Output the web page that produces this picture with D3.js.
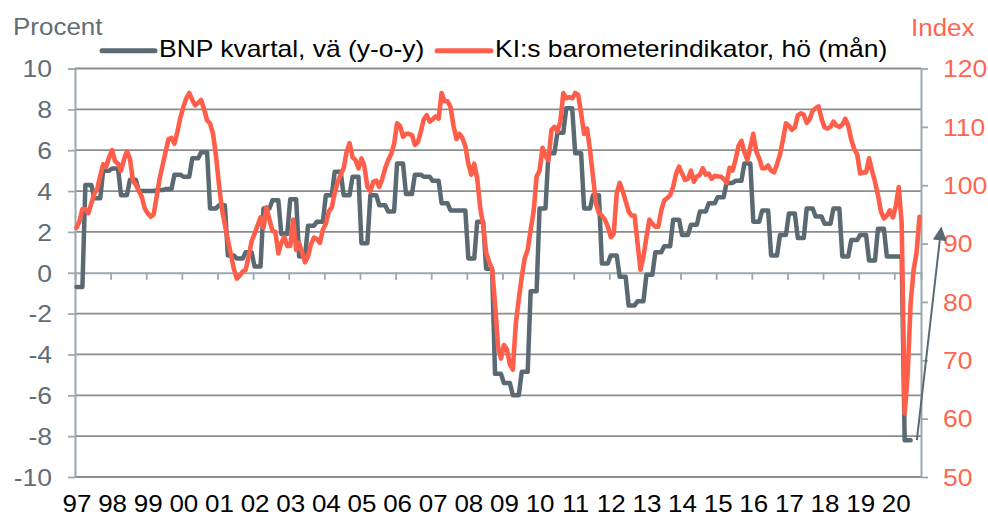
<!DOCTYPE html>
<html><head><meta charset="utf-8">
<script src="https://cdn.jsdelivr.net/npm/d3@7"></script>
<style>
html,body{margin:0;padding:0;background:#fff;}
svg text{font-family:"Liberation Sans",Arial,sans-serif;}
</style></head>
<body><svg id="chart" width="988" height="516"></svg>
<script>
// ---- data ----
const years = ["97","98","99","00","01","02","03","04","05","06","07","08","09","10","11","12","13","14","15","16","17","18","19","20"];
const leftTicks = [-10,-8,-6,-4,-2,0,2,4,6,8,10];
const rightTicks = [50,60,70,80,90,100,110,120];
const seriesNames = ["BNP kvartal, vä (y-o-y)", "KI:s barometerindikator, hö (mån)"];
// BNP, quarterly y-o-y %, 1997Q1 - 2020Q2
const bnpQuarterly = [
 -0.7, 4.3, 3.65, 5.0,
 5.1, 3.8, 4.55, 4.0,
 4.0, 4.05, 4.1, 4.8,
 4.7, 5.6, 5.9, 3.15,
 3.3, 0.85, 0.7, 1.0,
 0.3, 3.15, 3.55, 1.9,
 3.6, 0.8, 2.3, 2.5,
 3.8, 4.95, 3.8, 4.7,
 1.45, 3.8, 3.3, 3.0,
 5.35, 3.85, 4.8, 4.7,
 4.5, 3.4, 3.05, 3.05,
 0.7, 2.5, 0.2, -4.95,
 -5.4, -6.0, -4.85, -0.9,
 3.15, 5.85, 6.85, 8.05,
 5.85, 3.15, 3.8, 0.45,
 0.85, -0.2, -1.6, -1.4,
 -0.1, 1.0, 1.3, 2.6,
 1.85, 2.35, 3.0, 3.4,
 3.7, 4.4, 4.5, 5.35,
 2.5, 3.05, 0.85, 1.85,
 2.9, 1.7, 3.15, 2.75,
 2.4, 3.15, 0.8, 1.6,
 1.85, 0.6, 2.15, 0.8,
 0.8, -8.2];
// KI barometer, monthly index, Jan 1997 - Sep 2020
const kiMonthly = [
 92.7, 93.8, 95.9, 95.9, 95.2, 96.9, 98.5, 99.4, 101.6, 103.6, 103.2, 104.8,
 106.0, 104.1, 103.7, 102.5, 104.4, 105.8, 104.6, 100.8, 100.1, 99.0, 98.0, 96.0,
 95.2, 94.6, 95.0, 98.0, 101.1, 103.4, 105.7, 107.9, 108.1, 107.1, 109.2, 111.6,
 113.4, 114.9, 115.8, 114.6, 113.7, 114.1, 114.6, 113.0, 111.1, 110.6, 108.8, 105.0,
 100.1, 95.9, 93.2, 90.6, 88.2, 85.7, 84.0, 84.5, 85.2, 85.5, 87.8, 90.4,
 91.7, 93.1, 94.5, 92.7, 96.2, 94.1, 92.2, 92.0, 88.3, 90.1, 91.1, 89.6,
 89.6, 94.1, 88.9, 90.1, 88.5, 86.8, 87.8, 89.9, 91.0, 90.8, 90.1, 92.4,
 93.4, 95.5, 96.2, 98.7, 100.6, 101.8, 102.9, 105.7, 107.2, 104.8, 104.3, 102.9,
 104.6, 103.2, 99.7, 99.0, 100.6, 100.8, 99.7, 101.1, 102.9, 104.3, 105.3, 107.1,
 110.6, 110.2, 108.3, 108.8, 108.8, 108.6, 106.9, 107.4, 109.2, 111.3, 112.0, 110.9,
 111.3, 111.8, 111.4, 115.8, 114.4, 114.4, 113.4, 110.2, 107.9, 108.8, 108.1, 106.7,
 103.7, 101.8, 103.7, 101.1, 96.2, 93.1, 88.5, 86.9, 85.7, 79.8, 72.4, 70.3,
 72.6, 71.9, 69.3, 68.4, 76.3, 80.5, 84.3, 87.5, 88.9, 92.4, 95.5, 101.5,
 102.5, 106.4, 105.0, 104.3, 109.5, 110.0, 109.2, 110.9, 115.8, 114.9, 115.1, 114.9,
 115.8, 115.5, 112.3, 108.8, 109.7, 106.0, 101.5, 96.9, 95.2, 94.8, 94.1, 92.9,
 91.1, 91.7, 98.7, 100.4, 99.0, 97.3, 95.5, 94.8, 94.8, 90.1, 85.5, 87.8,
 91.1, 94.1, 93.4, 92.9, 92.9, 95.7, 97.4, 97.8, 98.3, 99.7, 102.0, 103.2,
 102.0, 100.9, 101.1, 102.5, 100.6, 101.5, 101.8, 102.9, 101.8, 102.0, 101.1, 101.6,
 101.5, 101.5, 101.1, 100.4, 103.0, 102.5, 104.3, 106.7, 107.6, 105.7, 104.3, 106.5,
 108.8, 105.8, 104.6, 102.9, 102.9, 103.4, 102.5, 102.2, 103.6, 105.3, 107.8, 110.6,
 110.2, 109.5, 109.9, 112.0, 112.3, 112.1, 110.7, 111.3, 112.8, 113.2, 113.5, 111.4,
 109.9, 109.7, 110.0, 110.9, 110.2, 110.0, 110.4, 111.4, 110.2, 107.8, 106.2, 105.3,
 102.0, 102.2, 102.2, 104.6, 102.5, 100.6, 98.3, 95.5, 94.3, 94.8, 95.7, 94.5,
 96.4, 99.7, 93.4, 60.9, 67.5, 79.8, 85.4, 88.5, 94.6];
// annotation arrow (month index, left-axis value)
const arrowFrom = [283.6, -8.2];
const arrowTo = [291.8, 2.2];

// ---- drawing ----
const svg = d3.select("#chart");
const totalMonths = 285;
const GRAY = "#5b6a72", RED = "#ff5f4a", AXIS = "#9aa8b1", GRID = "#8c8c8c";
const TXT_GRAY = "#5f6e76", TXT_RED = "#ff6650";
const SX = 1.13;

const x = d3.scaleLinear().domain([0, totalMonths]).range([75, 921]);
const yL = d3.scaleLinear().domain([-10, 10]).range([477, 68.5]);
const yR = d3.scaleLinear().domain([50, 120]).range([477, 68.5]);

// gridlines
svg.append("g").selectAll("line").data(leftTicks.filter(v => v !== 0)).join("line")
  .attr("x1", x(0)).attr("x2", x(totalMonths))
  .attr("y1", d => yL(d)).attr("y2", d => yL(d))
  .attr("stroke", GRID).attr("stroke-width", 1.8);

function styleText(sel, size, color, anchor) {
  sel.attr("font-size", size).attr("fill", color).attr("text-anchor", anchor);
}

// left axis
const gL = svg.append("g").attr("transform", `translate(${x(0)},0)`)
  .call(d3.axisLeft(yL).tickValues(leftTicks).tickSize(7).tickSizeOuter(0).tickFormat(d => String(d)));
gL.select(".domain").attr("stroke", AXIS).attr("stroke-width", 2);
gL.selectAll(".tick line").attr("stroke", AXIS).attr("stroke-width", 1.8);
gL.selectAll(".tick text").attr("x", null).attr("dy", null)
  .attr("transform", `translate(-23,8.3) scale(${SX},1)`)
  .call(styleText, 23.5, TXT_GRAY, "end");

// right axis
const gR = svg.append("g").attr("transform", `translate(${x(totalMonths)},0)`)
  .call(d3.axisRight(yR).tickValues(rightTicks).tickSize(7).tickSizeOuter(0).tickFormat(d => String(d)));
gR.select(".domain").attr("stroke", AXIS).attr("stroke-width", 2);
gR.selectAll(".tick line").attr("stroke", AXIS).attr("stroke-width", 1.8);
gR.selectAll(".tick text").attr("x", null).attr("dy", null)
  .attr("transform", `translate(22,8.3) scale(${SX},1)`)
  .call(styleText, 23.5, TXT_RED, "start");

// x axis at zero line with year ticks
const yearTickMonths = years.map((y, i) => i * 12);
const gX = svg.append("g").attr("transform", `translate(0,${yL(0)})`)
  .call(d3.axisBottom(x).tickValues(yearTickMonths.slice(1)).tickSize(7).tickFormat(""));
gX.select(".domain").attr("stroke", AXIS).attr("stroke-width", 2);
gX.selectAll(".tick line").attr("stroke", AXIS).attr("stroke-width", 1.8);

// year labels at bottom
const gY = svg.append("g").attr("transform", `translate(0,${yL(-10)})`)
  .call(d3.axisBottom(x).tickValues(yearTickMonths).tickSize(0).tickFormat((d, i) => years[i]));
gY.select(".domain").remove();
gY.selectAll(".tick text").attr("y", null).attr("dy", null)
  .attr("transform", `translate(1.5,35) scale(${SX},1)`)
  .call(styleText, 23, "#000", "middle");

// BNP step line (quarterly values held for each month of the quarter)
const bnpMonthly = bnpQuarterly.flatMap(v => [v, v, v]);
const lineL = d3.line().x((d, i) => x(i + 0.5)).y(d => yL(d));
const lineR = d3.line().x((d, i) => x(i + 0.5)).y(d => yR(d));
svg.append("path").datum(bnpMonthly).attr("d", lineL)
  .attr("fill", "none").attr("stroke", GRAY).attr("stroke-width", 4.5)
  .attr("stroke-linejoin", "round").attr("stroke-linecap", "round");
svg.append("path").datum(kiMonthly).attr("d", lineR)
  .attr("fill", "none").attr("stroke", RED).attr("stroke-width", 4.6)
  .attr("stroke-linejoin", "round").attr("stroke-linecap", "round");

// arrow
svg.append("defs").append("marker").attr("id", "ah")
  .attr("viewBox", "0 0 10 10").attr("refX", 9).attr("refY", 5)
  .attr("markerWidth", 7).attr("markerHeight", 7).attr("markerUnits", "strokeWidth")
  .attr("orient", "auto")
  .append("path").attr("d", "M0,0 L10,5 L0,10 z").attr("fill", GRAY);
svg.append("line")
  .attr("x1", x(arrowFrom[0])).attr("y1", yL(arrowFrom[1]))
  .attr("x2", x(arrowTo[0])).attr("y2", yL(arrowTo[1]))
  .attr("stroke", GRAY).attr("stroke-width", 2).attr("marker-end", "url(#ah)");

// axis titles
svg.append("text").attr("transform", `translate(13,35) scale(${SX},1)`)
  .text("Procent").call(styleText, 23, TXT_GRAY, "start");
svg.append("text").attr("transform", `translate(911,36) scale(${SX},1)`)
  .text("Index").call(styleText, 23, TXT_RED, "start");

// legend
const legend = [
  {name: seriesNames[0], color: GRAY, x0: 102, x1: 155, tx: 159},
  {name: seriesNames[1], color: RED, x0: 437, x1: 491, tx: 495}
];
legend.forEach(l => {
  svg.append("line").attr("x1", l.x0).attr("x2", l.x1).attr("y1", 50.7).attr("y2", 50.7)
    .attr("stroke", l.color).attr("stroke-width", 5).attr("stroke-linecap", "round");
  svg.append("text").attr("transform", `translate(${l.tx},56.7) scale(1.15,1)`)
    .text(l.name).call(styleText, 23, "#000", "start");
});
</script></body></html>
